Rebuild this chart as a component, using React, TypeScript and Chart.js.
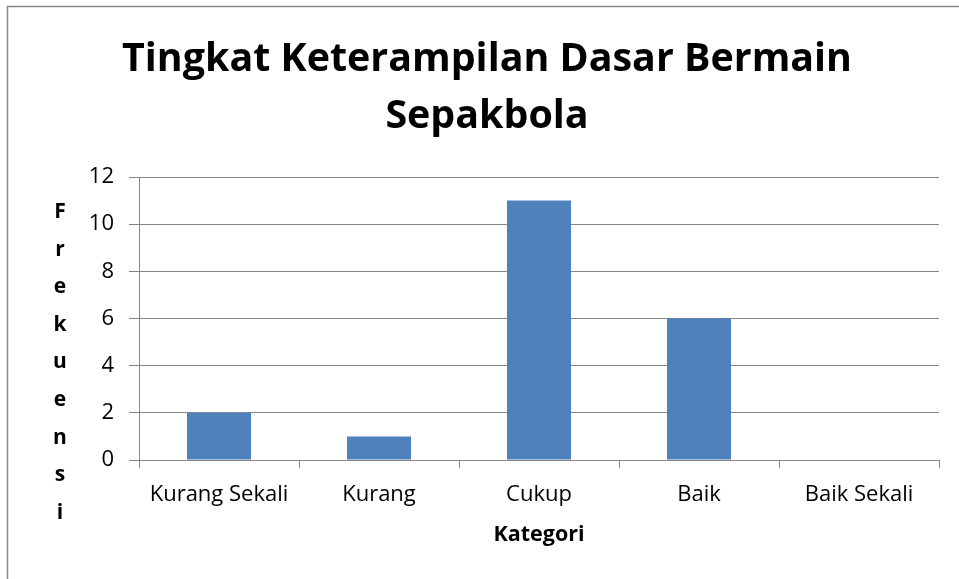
import React, { useEffect, useRef } from "react";
import { Chart, registerables } from "chart.js";

Chart.register(...registerables);

const categories = ["Kurang Sekali", "Kurang", "Cukup", "Baik", "Baik Sekali"];
const frekuensi = [2, 1, 11, 6, 0];
const titleLines = ["Tingkat Keterampilan Dasar Bermain", "Sepakbola"];
const yTitle = "Frekuensi";
const xTitle = "Kategori";

const GRID = "#868686";
const FONT = "'Open Sans', 'DejaVu Sans', sans-serif";

const frameAndYTitle = {
  id: "frameAndYTitle",
  beforeDraw(chart: any) {
    const ctx = chart.ctx;
    ctx.save();
    ctx.strokeStyle = "#888888";
    ctx.lineWidth = 1.5;
    ctx.beginPath();
    ctx.moveTo(7.5, chart.height + 2);
    ctx.lineTo(7.5, 6.5);
    ctx.lineTo(chart.width + 2, 6.5);
    ctx.stroke();
    ctx.restore();
  },
  afterDraw(chart: any) {
    const ctx = chart.ctx;
    ctx.save();
    ctx.fillStyle = "#000";
    ctx.font = `bold 21px ${FONT}`;
    ctx.textAlign = "center";
    ctx.textBaseline = "middle";
    const letters = yTitle.split("");
    const step = 37.6;
    const x = 60;
    const y0 = 212;
    letters.forEach((ch, i) => ctx.fillText(ch, x, y0 + i * step));
    ctx.restore();
  },
};

export default function App() {
  const ref = useRef<HTMLCanvasElement | null>(null);
  useEffect(() => {
    document.body.style.margin = "0";
    const canvas = ref.current!;
    const chart = new Chart(canvas, {
      type: "bar",
      data: {
        labels: categories,
        datasets: [
          {
            label: yTitle,
            data: frekuensi,
            backgroundColor: "#4F81BD",
            borderWidth: 0,
            barPercentage: 0.4,
            categoryPercentage: 1,
          },
        ],
      },
      options: {
        responsive: false,
        animation: false,
        devicePixelRatio: 1,
        layout: { padding: { left: 35, right: 20, top: 0, bottom: 0 } },
        plugins: {
          legend: { display: false },
          tooltip: { enabled: false },
          title: {
            display: true,
            text: titleLines,
            color: "#000",
            font: { family: FONT, size: 39.4, weight: "bold", lineHeight: 1.447 },
            padding: { top: 31.5, bottom: 31.5 },
          },
        },
        scales: {
          x: {
            afterFit(scale: any) {
              scale.height = 119;
            },
            grid: {
              display: true,
              drawOnChartArea: false,
              drawTicks: true,
              tickLength: 8,
              color: GRID,
              offset: true,
            },
            border: { display: true, color: GRID, width: 1 },
            ticks: {
              color: "#000",
              font: { family: FONT, size: 22 },
              padding: 14,
              maxRotation: 0,
            },
            title: {
              display: true,
              text: xTitle,
              color: "#000",
              font: { family: FONT, size: 21.5, weight: "bold" },
              padding: { top: 0, bottom: 31 },
            },
          },
          y: {
            min: 0,
            max: 12,
            afterFit(scale: any) {
              scale.width = 104;
            },
            grid: {
              display: true,
              drawTicks: true,
              tickLength: 10,
              color: GRID,
            },
            border: { display: true, color: GRID, width: 1 },
            ticks: {
              stepSize: 2,
              color: "#000",
              font: { family: FONT, size: 22 },
              padding: 15,
            },
          },
        },
      },
      plugins: [frameAndYTitle],
    });
    return () => chart.destroy();
  }, []);
  return (
    <div style={{ width: 959, height: 579, background: "#fff" }}>
      <canvas ref={ref} width={959} height={579} style={{ display: "block" }} />
    </div>
  );
}
